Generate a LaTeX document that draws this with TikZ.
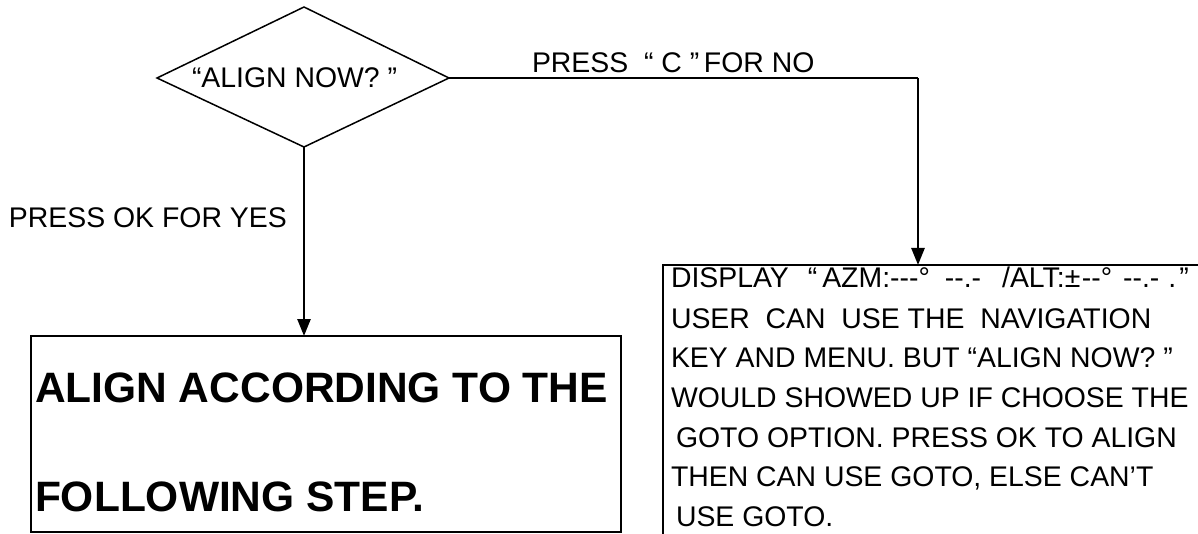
\documentclass[tikz,border=0pt]{standalone}
\usepackage{fontspec}
\usetikzlibrary{arrows.meta}
\newfontfamily\lab{Liberation Sans}
\tikzset{
  every node/.style={inner sep=0pt, outer sep=0pt},
  txt/.style={anchor=base west, font=\lab\fontsize{28.4}{39}\selectfont},
  bigtxt/.style={anchor=base west, font=\lab\bfseries\fontsize{42.5}{50}\selectfont},
  frame/.style={draw=black, line width=1.6pt},
  link/.style={draw=black, line width=2.6pt, -{Triangle[width=13pt,length=17pt]}},
  plain/.style={draw=black, line width=2.2pt}
}
\begin{document}
\begin{tikzpicture}[x=1pt, y=-1pt]
  \useasboundingbox (0,0) rectangle (1198,534);
  \clip (0,0) rectangle (1198,534);

  % decision
  \coordinate (dt) at (304,7);
  \coordinate (dl) at (157,78);
  \coordinate (dr) at (449,78);
  \coordinate (db) at (304,147);
  \draw[frame, line width=1.5pt, line join=miter] (dt) -- (dr) -- (db) -- (dl) -- cycle;
  \node[txt] (q) at (192,88) {“ALIGN NOW? ”};

  % left box
  \node[frame, minimum width=590pt, minimum height=196pt, anchor=north west] (yesbox) at (31,336) {};
  \node[bigtxt] (y1) at (35,402) {ALIGN ACCORDING TO THE};
  \node[bigtxt] (y2) at (35,511) {FOLLOWING STEP.};

  % right box (runs past the page edge)
  \node[frame, minimum width=600pt, minimum height=320pt, anchor=north west] (nobox) at (663,265) {};
  \node[txt] (n1) at (671,288) {DISPLAY\hspace{19pt}“\hspace{5pt}AZM:-{}-{}-°\hspace{15pt}-{}-.-\hspace{21pt}/ALT:±\hspace{1.5pt}-{}-°\hspace{11pt}-{}-.-\hspace{9pt}.\hspace{3pt}”};
  \node[txt] (n2) at (671,328) {USER \ CAN \ USE THE \ NAVIGATION};
  \node[txt] (n3) at (671,367) {KEY AND MENU. BUT “ALIGN NOW? ”};
  \node[txt] (n4) at (671,407) {WOULD SHOWED UP IF CHOOSE THE};
  \node[txt] (n5) at (676,447) {GOTO OPTION. PRESS OK TO ALIGN};
  \node[txt] (n6) at (671,486) {THEN CAN USE GOTO, ELSE CAN’T};
  \node[txt] (n7) at (676,526) {USE GOTO.};

  % connectors
  \coordinate (corner) at (918,78);
  \draw[link] (db) -- (db |- yesbox.north);
  \draw[plain] (dr) -- (corner);
  \draw[link] (corner) -- (corner |- nobox.north);

  % branch labels
  \node[txt] (yes) at (9,228) {PRESS OK FOR YES};
  \node[txt] (no) at (532,73) {PRESS \ “ C ”\,FOR NO};
\end{tikzpicture}
\end{document}
